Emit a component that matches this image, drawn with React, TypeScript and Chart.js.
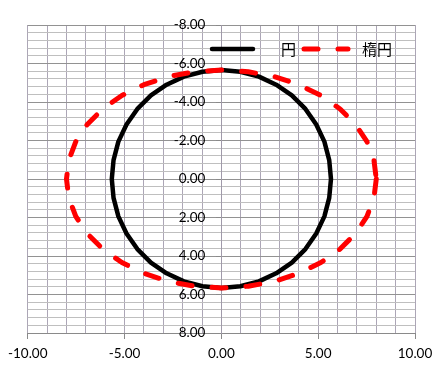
import { useEffect, useRef } from 'react';
import { Chart, registerables } from 'chart.js';

Chart.register(...registerables);

const seriesNames = ['円', '楕円'];

const circleX = [5.66, 5.57, 5.32, 4.90, 4.34, 3.64, 2.83, 1.94, 0.98, 0, -0.98, -1.94, -2.83, -3.64, -4.34, -4.90, -5.32, -5.57, -5.66, -5.57, -5.32, -4.90, -4.34, -3.64, -2.83, -1.94, -0.98, 0, 0.98, 1.94, 2.83, 3.64, 4.34, 4.90, 5.32, 5.57, 5.66];
const circleY = [0, 0.98, 1.94, 2.83, 3.64, 4.34, 4.90, 5.32, 5.57, 5.66, 5.57, 5.32, 4.90, 4.34, 3.64, 2.83, 1.94, 0.98, 0, -0.98, -1.94, -2.83, -3.64, -4.34, -4.90, -5.32, -5.57, -5.66, -5.57, -5.32, -4.90, -4.34, -3.64, -2.83, -1.94, -0.98, 0];

const ellipseX = [8.00, 7.88, 7.52, 6.93, 6.13, 5.14, 4.00, 2.74, 1.39, 0, -1.39, -2.74, -4.00, -5.14, -6.13, -6.93, -7.52, -7.88, -8.00, -7.88, -7.52, -6.93, -6.13, -5.14, -4.00, -2.74, -1.39, 0, 1.39, 2.74, 4.00, 5.14, 6.13, 6.93, 7.52, 7.88, 8.00];
const ellipseY = [0, 0.98, 1.94, 2.83, 3.64, 4.34, 4.90, 5.32, 5.57, 5.66, 5.57, 5.32, 4.90, 4.34, 3.64, 2.83, 1.94, 0.98, 0, -0.98, -1.94, -2.83, -3.64, -4.34, -4.90, -5.32, -5.57, -5.66, -5.57, -5.32, -4.90, -4.34, -3.64, -2.83, -1.94, -0.98, 0];

const xMin = -10;
const xMax = 10;
const xStep = 1;
const xLabelEvery = 5;
const yMin = -8;
const yMax = 8;
const yStep = 0.4;
const yLabelEvery = 2;

const toPoints = (xs: number[], ys: number[]) => xs.map((x, i) => ({ x, y: ys[i] }));

const isMultiple = (v: number, m: number) => Math.abs(v / m - Math.round(v / m)) < 1e-6;

const legendPlugin = {
  id: 'insideLegend',
  afterDatasetsDraw(chart: any) {
    const ctx = chart.ctx as CanvasRenderingContext2D;
    const ds = chart.data.datasets;
    const items = [
      { d: ds[0], x1: 212, x2: 253, tx: 281 },
      { d: ds[1], x1: 304, x2: 348, tx: 362 },
    ];
    const y = 49;
    ctx.save();
    for (const it of items) {
      ctx.beginPath();
      ctx.strokeStyle = it.d.borderColor;
      ctx.lineWidth = it.d.borderWidth;
      ctx.lineCap = it.d.borderCapStyle || 'butt';
      ctx.setLineDash(it.d.borderDash || []);
      ctx.moveTo(it.x1, y);
      ctx.lineTo(it.x2, y);
      ctx.stroke();
      ctx.setLineDash([]);
      ctx.fillStyle = '#000';
      ctx.font = '15px "Noto Sans CJK JP"';
      ctx.textBaseline = 'middle';
      ctx.textAlign = 'left';
      ctx.fillText(it.d.label, it.tx, y);
    }
    ctx.restore();
  },
};

export default function App() {
  const ref = useRef<HTMLCanvasElement | null>(null);

  useEffect(() => {
    if (!ref.current) return;
    const chart = new Chart(ref.current, {
      type: 'scatter',
      data: {
        datasets: [
          {
            label: seriesNames[0],
            data: toPoints(circleX, circleY),
            showLine: true,
            borderColor: '#000000',
            backgroundColor: '#000000',
            borderWidth: 4.5,
            borderCapStyle: 'round',
            borderJoinStyle: 'round',
            pointRadius: 0,
            tension: 0,
            order: 2,
          },
          {
            label: seriesNames[1],
            data: toPoints(ellipseX, ellipseY),
            showLine: true,
            borderColor: '#ff0000',
            backgroundColor: '#ff0000',
            borderWidth: 5,
            borderDash: [14, 20],
            borderCapStyle: 'round',
            borderJoinStyle: 'round',
            pointRadius: 0,
            tension: 0,
            order: 1,
          },
        ],
      },
      options: {
        responsive: false,
        animation: false,
        layout: { padding: { left: 26, right: 26, top: 25, bottom: 48 } },
        plugins: { legend: { display: false }, tooltip: { enabled: false } },
        scales: {
          x: {
            type: 'linear',
            min: xMin,
            max: xMax,
            position: { y: yMax } as any,
            ticks: {
              stepSize: xStep,
              autoSkip: false,
              maxRotation: 0,
              padding: 8,
              color: '#000',
              font: { family: 'Lato', size: 13.5 },
              callback: (v: any) => (isMultiple(Number(v), xLabelEvery) ? Number(v).toFixed(2) : ''),
            },
            grid: {
              color: '#aca6b6',
              lineWidth: 1,
              tickLength: 5,
              tickColor: (c: any) => (isMultiple(c.tick.value, xLabelEvery) ? '#8a8a8a' : 'rgba(0,0,0,0)'),
            },
            border: { display: true, color: '#8a8a8a' },
          },
          y: {
            type: 'linear',
            min: yMin,
            max: yMax,
            reverse: true,
            position: 'center',
            ticks: {
              stepSize: yStep,
              autoSkip: false,
              padding: 11,
              color: '#000',
              font: { family: 'Lato', size: 13.5 },
              callback: (v: any) => (isMultiple(Number(v), yLabelEvery) ? Number(v).toFixed(2) : ''),
            },
            grid: {
              color: (c: any) => (isMultiple(c.tick.value, yLabelEvery) ? '#929292' : '#bfbfbf'),
              lineWidth: 1,
              tickLength: 5,
              tickColor: (c: any) => (isMultiple(c.tick.value, yLabelEvery) ? '#8a8a8a' : 'rgba(0,0,0,0)'),
            },
            border: { display: true, color: '#a09aaa' },
          },
        },
      },
      plugins: [legendPlugin],
    } as any);
    return () => chart.destroy();
  }, []);

  return (
    <div style={{ position: 'absolute', left: 0, top: 0, width: 441, height: 381, background: '#fff' }}>
      <canvas ref={ref} width={441} height={381} />
    </div>
  );
}
